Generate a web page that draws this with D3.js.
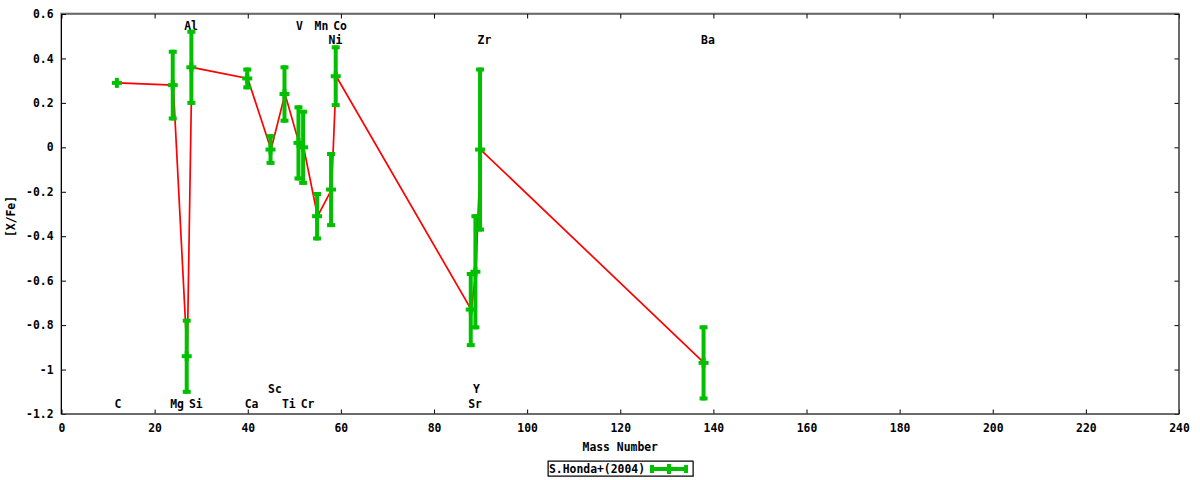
<!DOCTYPE html>
<html>
<head>
<meta charset="utf-8">
<script src="https://cdn.jsdelivr.net/npm/d3@7"></script>
<style>
  html, body { margin: 0; padding: 0; background: #fff; }
  svg { display: block; }
  text { font-family: "DejaVu Sans Mono", "Liberation Mono", monospace; font-weight: bold; font-size: 11.4px; fill: #000; }
</style>
</head>
<body>
<svg id="chart" width="1200" height="480"></svg>
<script>
// ---- data ----
const elements = ["C","Mg","Al","Si","Ca","Sc","Ti","V","Cr","Mn","Ni","Co","Sr","Y","Zr","Ba"];
const massNumbers = [12, 24, 27, 28, 40, 45, 48, 51, 52, 55, 58, 59, 88, 89, 90, 138];
const xfeValues = [0.29, 0.28, -0.94, 0.36, 0.31, -0.01, 0.24, 0.02, 0.00, -0.31, -0.19, 0.32, -0.73, -0.56, -0.01, -0.97];
const xfeErrors = [0.00, 0.15, 0.16, 0.16, 0.04, 0.06, 0.12, 0.16, 0.16, 0.10, 0.16, 0.13, 0.16, 0.25, 0.36, 0.16];

// element labels drawn inside the plot (name, mass, y-position in data units)
const labelNames = ["C","Mg","Si","Al","Ca","Sc","Ti","Cr","V","Mn","Co","Ni","Zr","Ba","Y","Sr"];
const labelMass  = [12, 24, 28, 27, 40, 45, 48, 52, 51, 55, 59, 58, 90, 138, 89, 88];
const labelLevel = [-1.15, -1.15, -1.15, 0.55, -1.15, -1.08, -1.15, -1.15, 0.55, 0.55, 0.55, 0.49, 0.49, 0.49, -1.08, -1.15];

const xTicks = [0, 20, 40, 60, 80, 100, 120, 140, 160, 180, 200, 220, 240];
const yTicks = [0.6, 0.4, 0.2, 0, -0.2, -0.4, -0.6, -0.8, -1, -1.2];
const yTickLabels = ["0.6", "0.4", "0.2", "0", "-0.2", "-0.4", "-0.6", "-0.8", "-1", "-1.2"];
const seriesName = "S.Honda+(2004)";
const xTitle = "Mass Number";
const yTitle = "[X/Fe]";

// ---- layout ----
const M = { left: 61.5, right: 1179, top: 14, bottom: 414 };
const green = "#00c000", red = "#ff0000";

const svg = d3.select("#chart");
const x = d3.scaleLinear().domain([0, 240]).range([M.left, M.right]);
const y = d3.scaleLinear().domain([-1.2, 0.6]).range([M.bottom, M.top]);

// axes with inward ticks
const tickLen = 4.5;
const axB = svg.append("g").attr("transform", `translate(0,${M.bottom})`)
  .call(d3.axisBottom(x).tickValues(xTicks).tickSizeInner(-tickLen).tickSizeOuter(0).tickPadding(10).tickFormat(d3.format("d")));
const axT = svg.append("g").attr("transform", `translate(0,${M.top})`)
  .call(d3.axisTop(x).tickValues(xTicks).tickSizeInner(-tickLen).tickSizeOuter(0).tickFormat(""));
const axL = svg.append("g").attr("transform", `translate(${M.left},0)`)
  .call(d3.axisLeft(y).tickValues(yTicks).tickSizeInner(-tickLen).tickSizeOuter(0).tickPadding(8)
    .tickFormat((d, i) => yTickLabels[i]));
const axR = svg.append("g").attr("transform", `translate(${M.right},0)`)
  .call(d3.axisRight(y).tickValues(yTicks).tickSizeInner(-tickLen).tickSizeOuter(0).tickFormat(""));

[axB, axT, axL, axR].forEach(g => {
  g.select(".domain").remove();
  g.selectAll(".tick line").attr("stroke", "#000").attr("stroke-width", 1);
  g.selectAll(".tick text").attr("fill", "#000")
    .style("font-family", "'DejaVu Sans Mono', monospace").style("font-weight", "bold").style("font-size", "11.4px");
});

// frame
svg.append("rect").attr("x", M.left - 1).attr("y", M.top - 1).attr("width", M.right - M.left + 1).attr("height", M.bottom - M.top + 1)
  .attr("fill", "none").attr("stroke", "#aaa").attr("stroke-width", 1);
svg.append("rect").attr("x", M.left).attr("y", M.top).attr("width", M.right - M.left).attr("height", M.bottom - M.top)
  .attr("fill", "none").attr("stroke", "#000").attr("stroke-width", 1);

// element labels
svg.append("g").selectAll("text").data(labelNames).join("text")
  .attr("x", (d, i) => x(labelMass[i]) - 3)
  .attr("y", (d, i) => y(labelLevel[i]))
  .attr("dy", 1.2)
  .attr("dominant-baseline", "central")
  .attr("text-anchor", "start")
  .text(d => d);

// connecting line (points sorted by mass)
const pts = massNumbers.map((m, i) => ({ m, v: xfeValues[i], e: xfeErrors[i] }));
svg.append("path").datum(pts)
  .attr("fill", "none").attr("stroke", red).attr("stroke-width", 1.7)
  .attr("d", d3.line().x(d => x(d.m)).y(d => y(d.v)));

// error bars + plus markers
const capW = 4, barW = 4, plusR = 5;
const eb = svg.append("g").attr("stroke", green).attr("stroke-width", barW).attr("fill", "none");
pts.forEach(d => {
  const cx = x(d.m) - 0.5;
  const cy = y(d.v);
  if (d.e > 0) {
    eb.append("line").attr("x1", cx).attr("x2", cx).attr("y1", y(d.v - d.e) + 2).attr("y2", y(d.v + d.e) - 2);
    [d.v - d.e, d.v + d.e].forEach(v => {
      eb.append("line").attr("x1", cx - capW).attr("x2", cx + capW).attr("y1", y(v)).attr("y2", y(v));
    });
  }
  // point symbol (+)
  eb.append("line").attr("x1", cx - plusR).attr("x2", cx + plusR).attr("y1", cy).attr("y2", cy);
  eb.append("line").attr("x1", cx).attr("x2", cx).attr("y1", cy - plusR).attr("y2", cy + plusR);
});

// axis titles
svg.append("text").attr("x", (M.left + M.right) / 2).attr("y", 447).attr("text-anchor", "middle")
  .attr("dominant-baseline", "central").text(xTitle);
svg.append("text").attr("transform", `translate(11,216.5) rotate(-90)`).attr("text-anchor", "middle")
  .attr("dominant-baseline", "central").text(yTitle);

// legend
const lg = svg.append("g");
lg.append("rect").attr("x", 548.5).attr("y", 461.5).attr("width", 145).attr("height", 15)
  .attr("fill", "#fff").attr("stroke", "#888").attr("stroke-width", 1);
lg.append("rect").attr("x", 548).attr("y", 461).attr("width", 145).attr("height", 15)
  .attr("fill", "none").attr("stroke", "#000").attr("stroke-width", 1);
lg.append("text").attr("x", 549).attr("y", 469).attr("dominant-baseline", "central").text(seriesName);
const lgY = 469;
lg.append("line").attr("x1", 652).attr("x2", 686).attr("y1", lgY).attr("y2", lgY).attr("stroke", green).attr("stroke-width", barW);
[652, 686].forEach(px => {
  lg.append("line").attr("x1", px).attr("x2", px).attr("y1", lgY - capW).attr("y2", lgY + capW).attr("stroke", green).attr("stroke-width", barW);
});
lg.append("line").attr("x1", 669).attr("x2", 669).attr("y1", lgY - plusR).attr("y2", lgY + plusR).attr("stroke", green).attr("stroke-width", barW);
</script>
</body>
</html>
